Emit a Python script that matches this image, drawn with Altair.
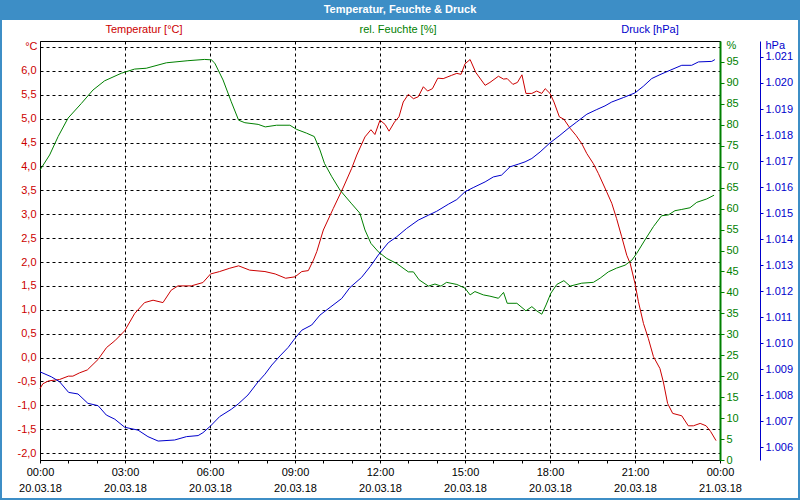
import altair as alt
import pandas as pd

# ---------------- data ----------------
temp_h = [0.0, 0.1, 0.3, 0.69, 1.0, 1.16, 1.4, 1.67, 2.05, 2.35, 2.64, 2.99, 3.34, 3.69, 3.99,
          4.34, 4.63, 4.87, 5.34, 5.75, 6.02, 6.34, 6.70, 7.01, 7.40, 7.94, 8.30, 8.67, 9.0,
          9.24, 9.47, 9.65, 9.77, 10.0, 10.35, 10.71, 11.0, 11.18, 11.47, 11.68, 11.82, 12.0,
          12.18, 12.32, 12.51, 12.67, 12.82, 13.0, 13.18, 13.35, 13.53, 13.68, 13.85, 14.04,
          14.23, 14.53, 14.71, 14.86, 15.0, 15.18, 15.38, 15.71, 15.88, 16.18, 16.36, 16.49,
          16.69, 16.85, 17.01, 17.15, 17.36, 17.53, 17.71, 17.83, 18.0, 18.14, 18.33, 18.49,
          18.71, 18.92, 19.12, 19.30, 19.53, 19.71, 20.0, 20.18, 20.35, 20.53, 20.71, 20.83,
          21.0, 21.12, 21.3, 21.47, 21.65, 21.88, 22.0, 22.15, 22.33, 22.65, 22.88, 23.06,
          23.30, 23.51, 23.67, 23.86]
temp_v = [-0.65, -0.55, -0.49, -0.46, -0.39, -0.39, -0.32, -0.26, -0.04, 0.21, 0.35, 0.56, 0.92,
          1.15, 1.20, 1.15, 1.41, 1.50, 1.50, 1.57, 1.75, 1.80, 1.87, 1.92, 1.83, 1.80, 1.75,
          1.66, 1.69, 1.80, 1.82, 2.04, 2.22, 2.67, 3.12, 3.57, 3.96, 4.24, 4.62, 4.77, 4.67,
          4.97, 4.88, 4.74, 4.93, 5.04, 5.35, 5.51, 5.42, 5.46, 5.67, 5.58, 5.63, 5.85, 5.84,
          5.91, 5.95, 5.93, 6.15, 6.24, 5.97, 5.70, 5.76, 5.89, 5.83, 5.84, 5.72, 5.76, 5.92,
          5.53, 5.53, 5.58, 5.53, 5.63, 5.53, 5.35, 5.04, 4.99, 4.80, 4.65, 4.48, 4.27, 4.06,
          3.85, 3.47, 3.23, 2.91, 2.53, 2.14, 1.97, 1.55, 1.17, 0.71, 0.40, 0.02, -0.23, -0.51,
          -0.96, -1.17, -1.22, -1.43, -1.43, -1.38, -1.43, -1.55, -1.74]

hum_h = [0.0, 0.34, 0.64, 0.99, 1.46, 1.87, 2.28, 2.87, 3.34, 3.75, 4.46, 5.22, 5.81, 6.05,
         6.17, 6.46, 6.75, 7.01, 7.23, 7.70, 7.95, 8.35, 8.82, 9.06, 9.41, 9.68, 9.88, 10.04,
         10.30, 10.59, 10.98, 11.29, 11.47, 11.68, 11.94, 12.24, 12.59, 13.0, 13.18, 13.38,
         13.71, 13.94, 14.15, 14.35, 14.71, 15.0, 15.18, 15.35, 15.65, 15.88, 16.18, 16.36,
         16.49, 16.83, 17.15, 17.36, 17.53, 17.71, 17.86, 18.03, 18.24, 18.49, 18.71, 19.12,
         19.53, 19.77, 20.06, 20.35, 20.65, 20.89, 21.06, 21.35, 21.65, 21.94, 22.18, 22.41,
         22.65, 22.94, 23.18, 23.53, 23.79]
hum_v = [69.2, 72.8, 77.2, 81.6, 85.1, 88.3, 90.5, 92.3, 93.3, 93.5, 94.8, 95.3, 95.6, 95.5,
         94.7, 90.7, 85.5, 81.1, 80.5, 80.1, 79.5, 79.9, 79.9, 78.9, 78.0, 77.2, 74.0, 70.8,
         67.6, 64.4, 61.3, 58.9, 54.9, 51.7, 49.7, 48.1, 46.9, 44.9, 44.9, 43.0, 41.5, 42.0,
         41.5, 42.4, 41.9, 41.0, 39.4, 40.2, 39.4, 39.1, 38.6, 40.0, 37.4, 37.4, 35.6, 36.6,
         35.6, 34.8, 37.0, 39.8, 41.9, 42.8, 41.5, 42.2, 42.4, 43.4, 44.9, 45.8, 46.5, 47.7,
         49.3, 52.5, 55.7, 58.3, 58.5, 59.5, 59.8, 60.2, 61.5, 62.3, 63.2]

pres_h = [0.0, 0.40, 0.69, 1.01, 1.34, 1.69, 2.05, 2.34, 2.64, 2.99, 3.46, 3.81, 4.17, 4.75,
          5.17, 5.58, 5.75, 6.02, 6.34, 6.75, 6.99, 7.34, 7.70, 7.94, 8.18, 8.47, 8.76, 9.0,
          9.24, 9.59, 9.88, 10.24, 10.65, 10.94, 11.35, 11.65, 11.94, 12.29, 12.59, 12.94,
          13.35, 13.71, 14.0, 14.41, 14.71, 15.0, 15.29, 15.71, 16.0, 16.29, 16.59, 16.88,
          17.12, 17.36, 17.65, 18.0, 18.35, 18.64, 18.94, 19.3, 19.65, 19.94, 20.18, 20.59,
          21.0, 21.29, 21.59, 21.88, 22.24, 22.65, 23.0, 23.24, 23.71, 23.82]
pres_v = [1008.90, 1008.71, 1008.52, 1008.11, 1008.05, 1007.69, 1007.60, 1007.24, 1007.08,
          1006.77, 1006.66, 1006.41, 1006.24, 1006.28, 1006.41, 1006.45, 1006.56, 1006.82,
          1007.18, 1007.46, 1007.66, 1008.01, 1008.52, 1008.81, 1009.16, 1009.51, 1009.84,
          1010.19, 1010.50, 1010.70, 1011.08, 1011.38, 1011.72, 1012.14, 1012.53, 1012.94,
          1013.39, 1013.86, 1014.09, 1014.41, 1014.73, 1014.92, 1015.07, 1015.34, 1015.52,
          1015.82, 1015.98, 1016.20, 1016.39, 1016.46, 1016.78, 1016.88, 1016.97, 1017.10,
          1017.35, 1017.70, 1017.99, 1018.25, 1018.50, 1018.80, 1018.98, 1019.12, 1019.27,
          1019.44, 1019.62, 1019.87, 1020.17, 1020.32, 1020.49, 1020.68, 1020.68, 1020.81,
          1020.83, 1020.90]

temp_ticks = [-2.0, -1.5, -1.0, -0.5, 0.0, 0.5, 1.0, 1.5, 2.0, 2.5, 3.0, 3.5, 4.0, 4.5,
              5.0, 5.5, 6.0, 6.5]
hum_ticks = [0, 5, 10, 15, 20, 25, 30, 35, 40, 45, 50, 55, 60, 65, 70, 75, 80, 85, 90, 95]
pres_ticks = [1006, 1007, 1008, 1009, 1010, 1011, 1012, 1013, 1014, 1015, 1016, 1017,
              1018, 1019, 1020, 1021]
hour_ticks = list(range(0, 25))

title_text = "Temperatur, Feuchte & Druck"
series_names = ["Temperatur [°C]", "rel. Feuchte [%]", "Druck [hPa]"]
day1, day2 = "20.03.18", "21.03.18"

# ---------------- styling ----------------
FONT = "Liberation Sans"
RED, GREEN, BLUE, BAR = "#cc0000", "#008000", "#0000cc", "#3d8ec6"
W, H = 680, 419
PL, PT, PR, PB = 40, 41, 80, 40

df_t = pd.DataFrame({"h": temp_h, "v": temp_v})
df_f = pd.DataFrame({"h": hum_h, "v": hum_v})
df_p = pd.DataFrame({"h": pres_h, "v": pres_v})
one = pd.DataFrame({"a": [0]})

x_label_expr = (
    f"datum.value % 3 == 0 ? [(datum.value == 24 ? '00' : (datum.value < 10 ? '0' : '') + datum.value) + ':00', "
    f"datum.value == 24 ? '{day2}' : '{day1}'] : ''"
)

x_enc = alt.X(
    "h:Q",
    scale=alt.Scale(domain=[0, 24], nice=False, zero=False),
    axis=alt.Axis(
        values=hour_ticks, title=None, labelExpr=x_label_expr, labelFlush=False,
        labelOverlap=False, labelBound=False, tickSize=3, tickColor="black",
        domainColor="black", labelColor="black", labelPadding=3, labelLineHeight=16,
        labelBaseline="top", labelFont=FONT, labelFontSize=11,
        grid=True, gridColor="black", gridDash=[3, 3], gridWidth=1,
        gridOpacity={"condition": {"test": "datum.value % 3 == 0 && datum.value > 0 && datum.value < 24",
                                   "value": 1}, "value": 0},
    ),
)

temp_line = alt.Chart(df_t).mark_line(color=RED, strokeWidth=1).encode(
    x=x_enc,
    y=alt.Y("v:Q", scale=alt.Scale(domain=[-2.146, 6.628], nice=False, zero=False),
            axis=alt.Axis(orient="left", values=temp_ticks, ticks=False, labelPadding=4,
                          labelExpr="datum.value > 6.4 ? '' : replace(replace(format(datum.value, '.1f'), '.', ','), '\u2212', '-')",
                          labelColor=RED, labelOverlap=False, domainColor="black",
                          grid=True, gridColor="black", gridDash=[3, 3], gridOpacity=1, gridWidth=1,
                          title="°C", titleAngle=0, titleX=-3, titleY=5, titleAlign="right",
                          titleBaseline="middle", titleColor=RED)),
)

hum_line = alt.Chart(df_f).mark_line(color=GREEN, strokeWidth=1).encode(
    x=x_enc,
    y=alt.Y("v:Q", scale=alt.Scale(domain=[0, 100], nice=False, zero=False),
            axis=alt.Axis(orient="right", values=hum_ticks, grid=False, domainColor=GREEN,
                          domainWidth=2, tickColor=GREEN, tickSize=4, labelColor=GREEN,
                          labelPadding=2, labelOverlap=False,
                          title="%", titleAngle=0, titleX=6, titleY=4, titleAlign="left",
                          titleBaseline="middle", titleColor=GREEN)),
)

pres_line = alt.Chart(df_p).mark_line(color=BLUE, strokeWidth=1).encode(
    x=x_enc,
    y=alt.Y("v:Q", scale=alt.Scale(domain=[1005.512, 1021.614], nice=False, zero=False),
            axis=alt.Axis(orient="right", offset=40, values=pres_ticks, grid=False,
                          labelExpr="replace(format(datum.value, ','), ',', '.')",
                          domainColor=BLUE, tickColor=BLUE, tickSize=3, labelColor=BLUE,
                          labelPadding=2, labelOverlap=False,
                          title="hPa", titleAngle=0, titleX=5, titleY=4, titleAlign="left",
                          titleBaseline="middle", titleColor=BLUE)),
)

# decorations: title bar, frame, series headers
bar = alt.Chart(one).mark_rect(fill=BAR).encode(
    x=alt.value(-PL), x2=alt.value(W + PR), y=alt.value(-PT), y2=alt.value(-PT + 20))
frame = alt.Chart(one).mark_rect(fill="white", fillOpacity=0, stroke=BAR, strokeWidth=2).encode(
    x=alt.value(-PL + 1), x2=alt.value(W + PR - 1), y=alt.value(-PT + 1), y2=alt.value(H + PB - 1))
title = alt.Chart(one).mark_text(text=title_text, color="white", font=FONT, fontSize=11,
                                 fontWeight="bold").encode(x=alt.value(400 - PL), y=alt.value(10 - PT))
head_t = alt.Chart(one).mark_text(text=series_names[0], color=RED, font=FONT, fontSize=11).encode(
    x=alt.value(144 - PL), y=alt.value(30 - PT))
head_f = alt.Chart(one).mark_text(text=series_names[1], color=GREEN, font=FONT, fontSize=11).encode(
    x=alt.value(398 - PL), y=alt.value(30 - PT))
head_p = alt.Chart(one).mark_text(text=series_names[2], color=BLUE, font=FONT, fontSize=11).encode(
    x=alt.value(650 - PL), y=alt.value(30 - PT))

chart = alt.layer(
    temp_line, hum_line, pres_line, bar, frame, title, head_t, head_f, head_p
).resolve_scale(y="independent").properties(
    width=W, height=H,
    autosize=alt.AutoSizeParams(type="none"),
    padding={"left": PL, "top": PT, "right": PR, "bottom": PB},
    background="white",
).configure_axis(
    labelFont=FONT, titleFont=FONT, labelFontSize=11, titleFontSize=11, titleFontWeight="normal",
).configure_view(stroke="black", strokeWidth=1)

chart.save("out.html", embed_options={"renderer": "svg", "actions": False})
